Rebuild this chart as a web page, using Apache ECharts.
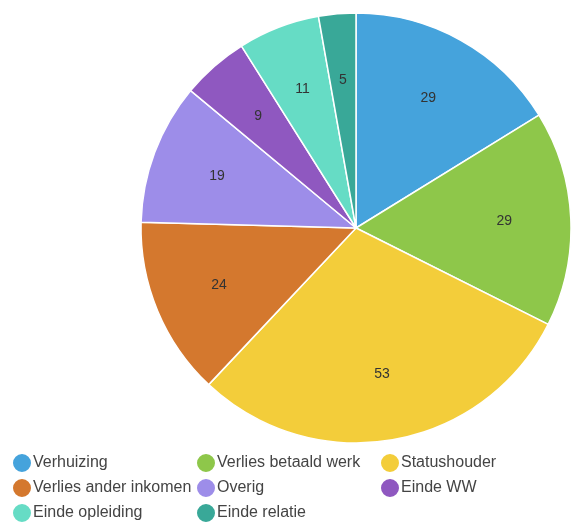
<!DOCTYPE html>
<html><head><meta charset="utf-8">
<script src="https://cdn.jsdelivr.net/npm/echarts@6/dist/echarts.min.js"></script>
<style>html,body{margin:0;padding:0;background:#fff}#c{width:573px;height:523px}</style>
</head><body><div id="c"></div>
<script>
const categories = ['Verhuizing','Verlies betaald werk','Statushouder','Verlies ander inkomen','Overig','Einde WW','Einde opleiding','Einde relatie'];
const values = [29, 29, 53, 24, 19, 9, 11, 5];
const colors = ['#45a3dc','#8ec74a','#f3cd3a','#d4782e','#9d8de9','#8f58c0','#66dcc5','#39a898'];
// legend grid: 3 columns, items flow left-to-right per row
const legendColLeft = [11, 195, 379];
const legendRowTop = [452, 477, 502];

const data = categories.map((n,i)=>({name:n, value:values[i], itemStyle:{color:colors[i]}}));
const chart = echarts.init(document.getElementById('c'), null, {renderer:'canvas'});
chart.setOption({
  animation:false,
  color: colors,
  legend: categories.map((n,i)=>({
    data:[n], orient:'horizontal', left:legendColLeft[i%3], top:legendRowTop[Math.floor(i/3)], padding:0, icon:'circle',
    itemWidth:20, itemHeight:20, selectedMode:false,
    textStyle:{fontSize:16, color:'#444', fontFamily:'Liberation Sans, Arial, sans-serif', padding:[0,0,0,-4]}
  })),
  series:[
    {type:'pie', center:[356,228], radius:[0,215], startAngle:90, clockwise:true,
     data:data, label:{show:false}, labelLine:{show:false},
     itemStyle:{borderColor:'#fff', borderWidth:1.5}, emphasis:{disabled:true}},
    {type:'pie', center:[356,228], radius:[76,215], startAngle:90, clockwise:true,
     data:categories.map((n,i)=>({name:n, value:values[i]})), legendHoverLink:false,
     itemStyle:{color:'rgba(0,0,0,0)', borderWidth:0}, emphasis:{disabled:true}, silent:true,
     label:{show:true, position:'inside', formatter:'{c}', fontSize:14, color:'#333', fontFamily:'Liberation Sans, Arial, sans-serif'},
     labelLine:{show:false}}
  ]
});
</script></body></html>
